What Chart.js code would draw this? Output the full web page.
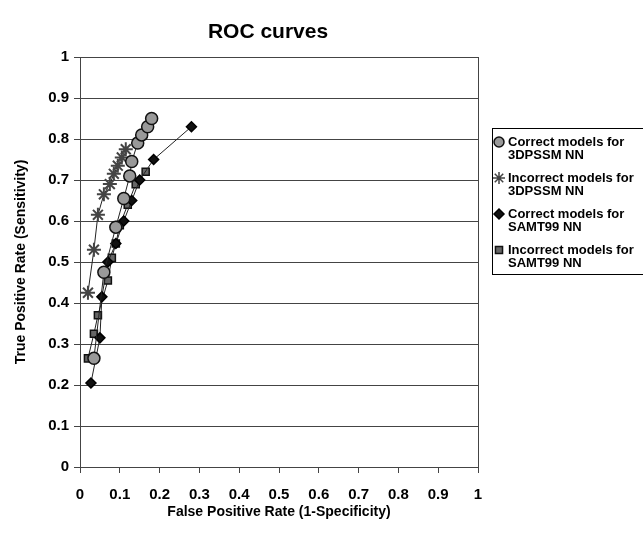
<!DOCTYPE html>
<html>
<head>
<meta charset="utf-8">
<script src="https://cdn.jsdelivr.net/npm/chart.js@4"></script>
<style>
  html, body { margin: 0; padding: 0; background: #fff; }
  #wrap { position: relative; width: 643px; height: 537px; }
</style>
</head>
<body>
<div id="wrap"><canvas id="roc" width="643" height="537"></canvas></div>
<script>
// ROC curve data (x = false positive rate, y = true positive rate)
const correct3dX   = [0.035, 0.06, 0.09, 0.11, 0.125, 0.13, 0.145, 0.155, 0.17, 0.18];
const correct3dY   = [0.265, 0.475, 0.585, 0.655, 0.71, 0.745, 0.79, 0.81, 0.83, 0.85];
const incorrect3dX = [0.02, 0.035, 0.045, 0.06, 0.075, 0.085, 0.095, 0.105, 0.115];
const incorrect3dY = [0.425, 0.53, 0.615, 0.665, 0.69, 0.715, 0.735, 0.755, 0.775];
const correctSamX  = [0.0275, 0.05, 0.055, 0.07, 0.09, 0.11, 0.13, 0.15, 0.185, 0.28];
const correctSamY  = [0.205, 0.315, 0.415, 0.5, 0.545, 0.6, 0.65, 0.7, 0.75, 0.83];
const incorrectSamX = [0.02, 0.035, 0.045, 0.07, 0.08, 0.09, 0.1, 0.12, 0.14, 0.165];
const incorrectSamY = [0.265, 0.325, 0.37, 0.455, 0.51, 0.545, 0.59, 0.64, 0.69, 0.72];

const seriesNames = [
  ['Correct models for', '3DPSSM NN'],
  ['Incorrect models for', '3DPSSM NN'],
  ['Correct models for', 'SAMT99 NN'],
  ['Incorrect models for', 'SAMT99 NN']
];

function pts(xs, ys) {
  return xs.map((x, i) => ({ x: x, y: ys[i] }));
}

const FONT = '"Liberation Sans", Arial, sans-serif';

// title, right border and the boxed legend on the right
const extras = {
  id: 'extras',
  afterDraw(chart) {
    const ctx = chart.ctx;
    const area = chart.chartArea;
    ctx.save();
    ctx.fillStyle = '#000';
    ctx.font = 'bold 21px ' + FONT;
    ctx.textAlign = 'center';
    ctx.textBaseline = 'middle';
    ctx.fillText('ROC curves', 268, 32);

    ctx.strokeStyle = '#444';
    ctx.lineWidth = 1;
    ctx.beginPath();
    ctx.moveTo(Math.round(area.right) + 0.5, area.top);
    ctx.lineTo(Math.round(area.right) + 0.5, area.bottom);
    ctx.stroke();

    // legend box
    ctx.strokeStyle = '#000';
    ctx.strokeRect(492.5, 128.5, 160, 146);
    chart.data.datasets.forEach((ds, i) => {
      const y0 = 142 + i * 36;
      ctx.fillStyle = ds.pointBackgroundColor;
      ctx.strokeStyle = ds.pointBorderColor;
      ctx.lineWidth = 1.5;
      Chart.helpers.drawPoint(ctx, {
        pointStyle: ds.pointStyle,
        radius: ds.pointStyle === 'star' ? 6 : 5,
        borderWidth: 1.5
      }, 499, y0);
      ctx.fillStyle = '#000';
      ctx.font = 'bold 13px ' + FONT;
      ctx.textAlign = 'left';
      ctx.textBaseline = 'middle';
      ctx.fillText(seriesNames[i][0], 508, y0);
      ctx.fillText(seriesNames[i][1], 508, y0 + 13);
    });
    ctx.restore();
  }
};

const datasets = [
  { data: pts(correct3dX, correct3dY), pointStyle: 'circle', pointRadius: 6,
    pointBackgroundColor: '#999', pointBorderColor: '#111', pointBorderWidth: 1.5 },
  { data: pts(incorrect3dX, incorrect3dY), pointStyle: 'star', pointRadius: 7,
    pointBackgroundColor: '#888', pointBorderColor: '#444', pointBorderWidth: 2 },
  { data: pts(correctSamX, correctSamY), pointStyle: 'rectRot', pointRadius: 5,
    pointBackgroundColor: '#111', pointBorderColor: '#000', pointBorderWidth: 1.5 },
  { data: pts(incorrectSamX, incorrectSamY), pointStyle: 'rect', pointRadius: 5,
    pointBackgroundColor: '#666', pointBorderColor: '#111', pointBorderWidth: 1.5 }
].map(d => Object.assign({
  showLine: true,
  borderColor: '#222',
  borderWidth: 1,
  tension: 0,
  fill: false
}, d));

new Chart(document.getElementById('roc'), {
  type: 'scatter',
  data: { datasets: datasets },
  options: {
    responsive: false,
    animation: false,
    devicePixelRatio: 1,
    layout: { padding: { top: 57, right: 165, left: 0, bottom: 16 } },
    plugins: {
      legend: { display: false },
      title: { display: false },
      tooltip: { enabled: false }
    },
    scales: {
      x: {
        type: 'linear',
        min: 0, max: 1,
        afterFit(s) { s.height = 54; },
        ticks: {
          stepSize: 0.1,
          color: '#000',
          padding: 13,
          font: { family: FONT, size: 15, weight: 'bold' },
          callback: v => String(Math.round(v * 10) / 10)
        },
        grid: { drawOnChartArea: false, drawTicks: true, tickLength: 6, color: '#444' },
        border: { color: '#444' },
        title: {
          display: true,
          text: 'False Positive Rate (1-Specificity)',
          color: '#000',
          font: { family: FONT, size: 14, weight: 'bold' },
          padding: { top: 8, bottom: 0 }
        }
      },
      y: {
        type: 'linear',
        min: 0, max: 1,
        afterFit(s) { s.width = 80; },
        ticks: {
          stepSize: 0.1,
          color: '#000',
          padding: 5,
          font: { family: FONT, size: 15, weight: 'bold' },
          callback: v => String(Math.round(v * 10) / 10)
        },
        grid: { color: '#444', lineWidth: 1, tickLength: 6 },
        border: { color: '#444' },
        title: {
          display: true,
          text: 'True Positive Rate (Sensitivity)',
          color: '#000',
          font: { family: FONT, size: 14, weight: 'bold' },
          padding: { bottom: 0, top: 13 }
        }
      }
    }
  },
  plugins: [extras]
});
</script>
</body>
</html>
